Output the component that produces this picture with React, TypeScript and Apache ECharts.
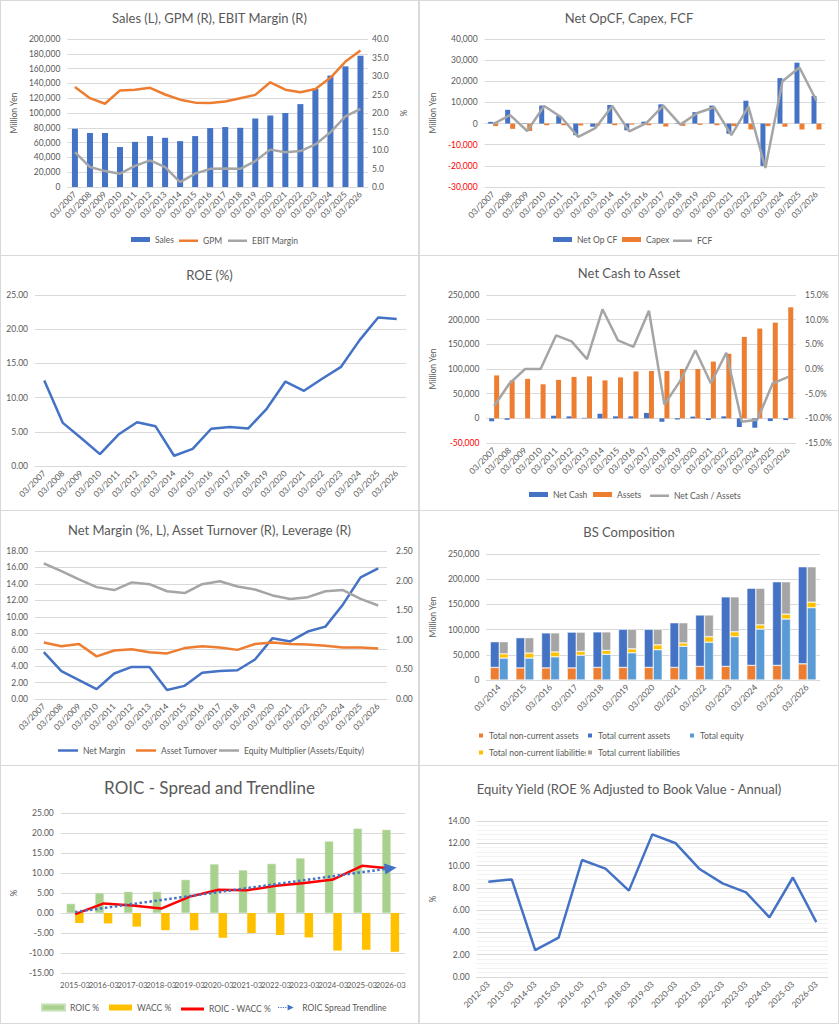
import { useEffect, useRef } from "react"
import * as echarts from "echarts"

const FONT = "Lato"
const TXT = "#595959"
const GRID = "#D9D9D9"
const BLUE = "#4472C4"
const ORANGE = "#ED7D31"
const GRAY = "#A5A5A5"
const YELLOW = "#FFC000"
const LIGHT_BLUE = "#5B9BD5"
const GREEN = "#A9D18E"
const RED = "#FF0000"

// ---- data ----
const years = [
  "03/2007", "03/2008", "03/2009", "03/2010", "03/2011", "03/2012", "03/2013",
  "03/2014", "03/2015", "03/2016", "03/2017", "03/2018", "03/2019", "03/2020",
  "03/2021", "03/2022", "03/2023", "03/2024", "03/2025", "03/2026",
]
const sales = [78700, 73000, 73000, 54000, 61000, 68800, 66500, 62000, 68800, 79600, 81000, 80000, 92600, 96600, 100000, 112000, 132600, 150600, 163000, 177500]
const gpm = [27.0, 24.0, 22.5, 26.1, 26.3, 26.8, 25.0, 23.6, 22.8, 22.7, 23.1, 24.0, 24.9, 28.3, 26.3, 25.6, 26.5, 29.5, 33.9, 36.9]
const ebitMargin = [9.4, 5.4, 4.3, 3.6, 5.7, 7.2, 5.4, 1.3, 3.6, 4.9, 5.0, 4.9, 7.0, 10.1, 9.4, 9.7, 11.5, 14.8, 19.1, 21.1]

const netOpCF = [800, 6500, -200, 8500, 3700, -5500, -1500, 8800, -3200, 900, 9100, -200, 5400, 8500, -4800, 10800, -20000, 21500, 28800, 13100]
const capex = [-1200, -2500, -3500, -800, -800, -900, -900, -800, -500, -800, -1400, -1100, -600, -800, -1200, -2800, -1200, -1500, -2800, -2800]
const fcf = [-300, 4000, -3500, 8300, 3000, -6300, -2200, 8300, -3700, 200, 8500, -500, 5000, 7700, -5500, 8000, -21000, 20000, 26500, 10800]

const roe = [12.5, 6.3, 4.05, 1.74, 4.6, 6.4, 5.8, 1.5, 2.5, 5.45, 5.7, 5.5, 8.4, 12.35, 11.0, 12.8, 14.5, 18.4, 21.7, 21.5]

const netCash = [-6000, -3000, 0, 0, 5300, 4000, 1000, 9300, 4000, 4000, 11000, -7000, -2500, 3500, -3500, 4000, -17600, -19000, -5600, -3600]
const assets = [87000, 77000, 80000, 69000, 78000, 84000, 85000, 77000, 83000, 95000, 96000, 96000, 100000, 100000, 115000, 131000, 165000, 182000, 194000, 225000]
const netCashRatio = [-7.5, -2.9, 0.0, 0.0, 6.8, 5.6, 2.0, 12.1, 5.8, 4.5, 11.8, -7.2, -2.5, 3.8, -2.9, 3.3, -10.7, -10.3, -2.9, -1.6]

const netMargin = [5.7, 3.4, 2.3, 1.2, 3.1, 3.9, 3.9, 1.1, 1.6, 3.2, 3.4, 3.5, 4.8, 7.4, 7.0, 8.2, 8.8, 11.5, 14.8, 15.9]
const assetTurnover = [0.955, 0.89, 0.93, 0.72, 0.82, 0.84, 0.79, 0.77, 0.86, 0.89, 0.87, 0.83, 0.93, 0.955, 0.93, 0.92, 0.9, 0.87, 0.87, 0.855]
const equityMultiplier = [2.29, 2.16, 2.02, 1.89, 1.84, 1.97, 1.94, 1.82, 1.79, 1.94, 1.99, 1.9, 1.85, 1.75, 1.69, 1.72, 1.82, 1.84, 1.69, 1.58]

const bsYears = ["03/2014", "03/2015", "03/2016", "03/2017", "03/2018", "03/2019", "03/2020", "03/2021", "03/2022", "03/2023", "03/2024", "03/2025", "03/2026"]
const nonCurrentAssets = [25000, 24000, 24000, 24000, 25000, 25000, 25000, 25000, 27000, 27000, 29000, 29000, 32000]
const currentAssets = [51000, 60000, 69500, 71000, 70500, 75600, 75600, 88600, 102000, 138000, 153000, 166000, 192700]
const totalEquity = [43500, 43500, 46000, 49000, 51000, 54000, 60000, 67000, 75000, 86000, 101000, 121000, 143500]
const nonCurrentLiab = [8400, 10000, 9700, 7800, 7800, 7800, 9700, 6500, 11000, 9700, 8400, 9700, 11000]
const currentLiab = [24100, 30500, 37800, 38200, 36700, 38800, 30900, 40100, 43000, 69300, 72600, 64300, 70200]

const roicYears = ["2015-03", "2016-03", "2017-03", "2018-03", "2019-03", "2020-03", "2021-03", "2022-03", "2023-03", "2024-03", "2025-03", "2026-03"]
const roic = [2.3, 5.0, 5.3, 5.3, 8.3, 12.2, 10.7, 12.3, 13.7, 17.9, 21.1, 20.8]
const wacc = [-2.5, -2.6, -3.4, -4.3, -4.3, -6.2, -5.0, -5.5, -6.1, -9.4, -9.2, -9.7]
const spread = [-0.3, 2.4, 1.9, 1.1, 4.1, 5.8, 5.7, 6.8, 7.5, 8.4, 11.8, 11.1]
const trendEnds = [0.25, 11.2]

const eyYears = ["2012-03", "2013-03", "2014-03", "2015-03", "2016-03", "2017-03", "2018-03", "2019-03", "2020-03", "2021-03", "2022-03", "2023-03", "2024-03", "2025-03", "2026-03"]
const equityYield = [8.55, 8.76, 2.42, 3.53, 10.5, 9.72, 7.75, 12.8, 12.0, 9.72, 8.4, 7.6, 5.36, 8.93, 4.92]

// ---- helpers ----
const thousands = (v: number) => v.toLocaleString("en-US")
const redNeg = (v: any) => (Number(v) < 0 ? RED : TXT)

const title = (text: string, top: number, fontSize = 13) => ({
  text,
  left: "center",
  top,
  padding: 0,
  textStyle: { fontSize, fontWeight: "normal", color: TXT, fontFamily: FONT },
})

// one legend per item so each can sit where Excel put it
const legends = (items: { name: string; left: number; icon?: string; h?: number }[], top: number, w: number, h: number) =>
  items.map((it) => {
    const ih = it.h ?? h
    return {
      left: it.left,
      top: top + (h - ih) / 2,
      padding: 0,
      itemWidth: w,
      itemHeight: ih,
      selectedMode: false,
      data: [{ name: it.name, icon: it.icon ?? "rect" }],
      textStyle: { fontSize: 8.5, color: TXT, fontFamily: FONT },
    }
  })

const catAxis = (data: string[], rotate = 45, extra: any = {}) => ({
  type: "category",
  data,
  axisLine: { show: true, onZero: false, lineStyle: { color: GRID } },
  axisTick: { show: false },
  axisLabel: { rotate, interval: 0, fontSize: 8.5, color: TXT, margin: 6, hideOverlap: false },
  ...extra,
})

const valAxis = (min: number, max: number, interval: number, fmt: (v: number) => string, extra: any = {}) => ({
  type: "value",
  min,
  max,
  interval,
  axisLine: { show: false },
  axisTick: { show: false },
  axisLabel: { fontSize: 8.5, color: TXT, formatter: fmt, margin: 7 },
  splitLine: { lineStyle: { color: GRID } },
  nameTextStyle: { fontSize: 8.5, color: TXT },
  ...extra,
})

const lineSeries = (name: string, data: number[], color: string, yAxisIndex = 0) => ({
  name,
  type: "line",
  data,
  yAxisIndex,
  symbol: "none",
  lineStyle: { color, width: 2.5 },
  itemStyle: { color },
})

const base = { animation: false, textStyle: { fontFamily: FONT } }

// ---- options ----
const opt1 = {
  ...base,
  title: title("Sales (L), GPM (R), EBIT Margin (R)", 10),
  grid: { left: 63, right: 50, top: 38, bottom: 68 },
  legend: legends([
    { name: "Sales", left: 130 },
    { name: "GPM", left: 178, h: 2.5 },
    { name: "EBIT Margin", left: 227, h: 2.5 },
  ], 234, 19, 5),
  xAxis: catAxis(years),
  yAxis: [
    valAxis(0, 200000, 20000, thousands, { name: "Million Yen", nameLocation: "middle", nameGap: 40 }),
    valAxis(0, 40, 5, (v) => v.toFixed(1), {
      position: "right", splitLine: { show: false }, name: "%", nameLocation: "middle", nameGap: 30,
      axisLabel: { fontSize: 8.5, color: TXT, formatter: (v: number) => v.toFixed(1), margin: 4 },
    }),
  ],
  series: [
    { name: "Sales", type: "bar", data: sales, barWidth: 6, itemStyle: { color: BLUE } },
    lineSeries("GPM", gpm, ORANGE, 1),
    lineSeries("EBIT Margin", ebitMargin, GRAY, 1),
  ],
}

const opt2 = {
  ...base,
  title: title("Net OpCF, Capex, FCF", 10),
  grid: { left: 61, right: 13, top: 38, bottom: 68 },
  legend: legends([
    { name: "Net Op CF", left: 133 },
    { name: "Capex", left: 202 },
    { name: "FCF", left: 253, h: 2.5 },
  ], 234, 19, 5),
  xAxis: catAxis(years, 45, { axisLine: { show: false } }),
  yAxis: valAxis(-30000, 40000, 10000, thousands, {
    name: "Million Yen", nameLocation: "middle", nameGap: 40,
    axisLabel: { fontSize: 8.5, formatter: thousands, margin: 7, color: redNeg },
  }),
  series: [
    { name: "Net Op CF", type: "bar", data: netOpCF, barWidth: 5, barGap: "0%", itemStyle: { color: BLUE } },
    { name: "Capex", type: "bar", data: capex, barWidth: 5, barGap: "0%", itemStyle: { color: ORANGE } },
    lineSeries("FCF", fcf, GRAY),
  ],
}

const opt3 = {
  ...base,
  title: title("ROE (%)", 12),
  grid: { left: 34, right: 12, top: 39, bottom: 44 },
  xAxis: catAxis(years),
  yAxis: valAxis(0, 25, 5, (v) => v.toFixed(2)),
  series: [lineSeries("ROE", roe, BLUE)],
}

const opt4 = {
  ...base,
  title: title("Net Cash to Asset", 10),
  grid: { left: 63, right: 42, top: 39, bottom: 67 },
  legend: legends([
    { name: "Net Cash", left: 109 },
    { name: "Assets", left: 173 },
    { name: "Net Cash / Assets", left: 230, h: 2.5 },
  ], 234, 19, 5),
  xAxis: catAxis(years, 45, { axisLine: { show: false } }),
  yAxis: [
    valAxis(-50000, 250000, 50000, thousands, {
      name: "Million Yen", nameLocation: "middle", nameGap: 42,
      axisLabel: { fontSize: 8.5, formatter: thousands, margin: 7, color: redNeg },
    }),
    valAxis(-15, 15, 5, (v) => v.toFixed(1) + "%", {
      position: "right", splitLine: { show: false },
      axisLabel: { fontSize: 8.5, color: TXT, formatter: (v: number) => v.toFixed(1) + "%", margin: 9 },
    }),
  ],
  series: [
    { name: "Net Cash", type: "bar", data: netCash, barWidth: 5, barGap: "0%", itemStyle: { color: BLUE } },
    { name: "Assets", type: "bar", data: assets, barWidth: 5, barGap: "0%", itemStyle: { color: ORANGE } },
    lineSeries("Net Cash / Assets", netCashRatio, GRAY, 1),
  ],
}

const opt5 = {
  ...base,
  title: title("Net Margin (%, L), Asset Turnover (R), Leverage (R)", 12),
  grid: { left: 34, right: 31, top: 40, bottom: 66 },
  legend: legends([
    { name: "Net Margin", left: 57 },
    { name: "Asset Turnover", left: 135 },
    { name: "Equity Multiplier (Assets/Equity)", left: 218 },
  ], 235, 20, 2.5),
  xAxis: catAxis(years),
  yAxis: [
    valAxis(0, 18, 2, (v) => v.toFixed(2)),
    valAxis(0, 2.5, 0.5, (v) => v.toFixed(2), {
      position: "right", splitLine: { show: false },
      axisLabel: { fontSize: 8.5, color: TXT, formatter: (v: number) => v.toFixed(2), margin: 9 },
    }),
  ],
  series: [
    lineSeries("Net Margin", netMargin, BLUE),
    lineSeries("Asset Turnover", assetTurnover, ORANGE, 1),
    lineSeries("Equity Multiplier (Assets/Equity)", equityMultiplier, GRAY, 1),
  ],
}

const bsBar = (name: string, data: number[], color: string, stack: string) => ({
  name, type: "bar", stack, data, barWidth: 9, barGap: "0%",
  itemStyle: { color, borderColor: "#ffffff", borderWidth: 0.5 },
})

const opt6 = {
  ...base,
  title: title("BS Composition", 14),
  grid: { left: 57, right: 18, top: 43, bottom: 85 },
  legend: [
    ...legends([
      { name: "Total non-current assets", left: 57 },
      { name: "Total current assets", left: 166 },
      { name: "Total equity", left: 268 },
    ], 220, 6, 6),
    ...legends([
      { name: "Total non-current liabilities", left: 57 },
      { name: "Total current liabilities", left: 166 },
    ], 237, 6, 6),
  ],
  xAxis: catAxis(bsYears),
  yAxis: valAxis(0, 250000, 50000, thousands, { name: "Million Yen", nameLocation: "middle", nameGap: 40 }),
  series: [
    bsBar("Total non-current assets", nonCurrentAssets, ORANGE, "assets"),
    bsBar("Total current assets", currentAssets, BLUE, "assets"),
    bsBar("Total equity", totalEquity, LIGHT_BLUE, "liab"),
    bsBar("Total non-current liabilities", nonCurrentLiab, YELLOW, "liab"),
    bsBar("Total current liabilities", currentLiab, GRAY, "liab"),
  ],
}

const TREND_ICON = "path://M0,4h2v2h-2z M4,4h2v2h-2z M8,4h2v2h-2z M12,4h2v2h-2z M16,0L26,5L16,10Z"

const opt7 = {
  ...base,
  title: title("ROIC - Spread and Trendline", 13, 17),
  grid: { left: 58, right: 13, top: 47, bottom: 50 },
  legend: legends([
    { name: "ROIC %", left: 40 },
    { name: "WACC %", left: 108 },
    { name: "ROIC - WACC %", left: 180, h: 3 },
    { name: "ROIC Spread Trendline", left: 277, icon: TREND_ICON },
  ], 237, 23, 6),
  xAxis: catAxis(roicYears, 0, { axisLine: { show: false }, axisLabel: { rotate: 0, interval: 0, fontSize: 7.8, color: TXT, margin: 8, hideOverlap: false } }),
  yAxis: valAxis(-15, 25, 5, (v) => v.toFixed(2), { name: "%", nameLocation: "middle", nameGap: 36 }),
  series: [
    { name: "ROIC %", type: "bar", data: roic, barWidth: 8.5, barGap: "0%", itemStyle: { color: GREEN, borderColor: "#C5E0B4", borderWidth: 0.5 } },
    { name: "WACC %", type: "bar", data: wacc, barWidth: 8.5, barGap: "0%", itemStyle: { color: YELLOW } },
    { ...lineSeries("ROIC - WACC %", spread, RED), lineStyle: { color: RED, width: 2.5 } },
    {
      name: "ROIC Spread Trendline",
      type: "line",
      data: [],
      symbol: "none",
      itemStyle: { color: BLUE },
      lineStyle: { color: BLUE, width: 2.5, type: "dotted" },
      markLine: {
        silent: true,
        symbol: ["none", "triangle"],
        symbolSize: [11, 12],
        label: { show: false },
        lineStyle: { color: BLUE, width: 2.5, type: "dotted" },
        data: [[
          { coord: [roicYears[0], trendEnds[0]] },
          { coord: [roicYears[roicYears.length - 1], trendEnds[1]] },
        ]],
      },
    },
  ],
}

const opt8 = {
  ...base,
  title: title("Equity Yield (ROE % Adjusted to Book Value - Annual)", 16),
  grid: { left: 53, right: 10, top: 55, bottom: 46 },
  xAxis: catAxis(eyYears),
  yAxis: valAxis(0, 14, 2, (v) => v.toFixed(2), {
    name: "%", nameLocation: "middle", nameGap: 30,
    minorTick: { show: false, splitNumber: 5 },
    minorSplitLine: { show: true, lineStyle: { color: "#F2F2F2" } },
  }),
  series: [lineSeries("Equity Yield", equityYield, BLUE)],
}

function ChartPanel({ option, left, top, width, height }: { option: any; left: number; top: number; width: number; height: number }) {
  const ref = useRef<HTMLDivElement>(null)

  useEffect(() => {
    if (!ref.current) return
    const chart = echarts.init(ref.current, undefined, { renderer: "svg" })
    chart.setOption(option)
    return () => chart.dispose()
  }, [option])

  return (
    <div style={{ position: "absolute", left, top, width, height, border: "1px solid #D9D9D9", boxSizing: "border-box", background: "#fff" }}>
      <div ref={ref} style={{ width: "100%", height: "100%" }} />
    </div>
  )
}

const panels = [
  { option: opt1, left: 0, top: 0, width: 419, height: 256 },
  { option: opt2, left: 419, top: 0, width: 420, height: 256 },
  { option: opt3, left: 0, top: 255, width: 419, height: 256 },
  { option: opt4, left: 419, top: 255, width: 420, height: 256 },
  { option: opt5, left: 0, top: 510, width: 419, height: 256 },
  { option: opt6, left: 419, top: 510, width: 420, height: 256 },
  { option: opt7, left: 0, top: 765, width: 419, height: 259 },
  { option: opt8, left: 419, top: 765, width: 420, height: 259 },
]

export default function App() {
  return (
    <div style={{ position: "absolute", left: 0, top: 0, width: 839, height: 1024, background: "#fff", fontFamily: FONT }}>
      {panels.map((p, i) => (
        <ChartPanel key={i} {...p} />
      ))}
    </div>
  )
}
